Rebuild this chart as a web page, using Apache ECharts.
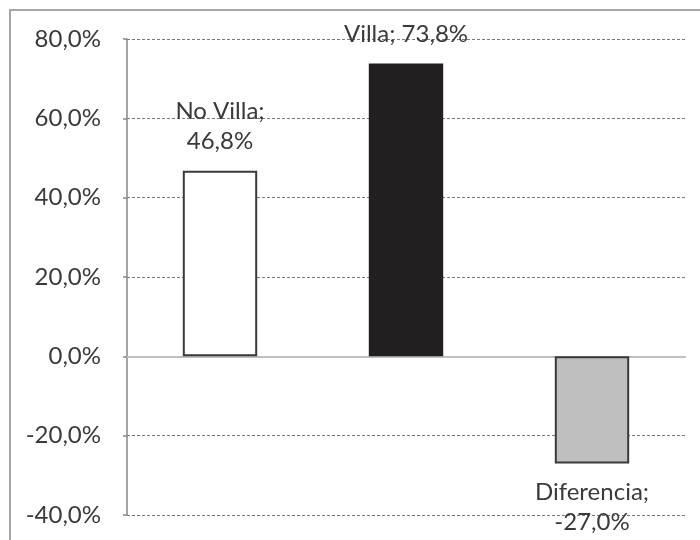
<!DOCTYPE html>
<html>
<head>
<meta charset="utf-8">
<script src="https://cdn.jsdelivr.net/npm/echarts@6/dist/echarts.min.js"></script>
<style>html,body{margin:0;padding:0;background:#fff}#c{width:700px;height:540px}</style>
</head>
<body>
<div id="c"></div>
<script>
const categories = ["No Villa", "Villa", "Diferencia"];
const values = [46.8, 73.8, -27.0];
const barColors = ["#ffffff", "#231f20", "#bfbfbf"];
const yTicks = [-40, -20, 0, 20, 40, 60, 80];

const fmt = v => v.toFixed(1).replace('.', ',') + '%';
const chart = echarts.init(document.getElementById('c'));
chart.setOption({
  animation: false,
  backgroundColor: '#fff',
  grid: { left: 127, right: 15, top: 39, bottom: 25 },
  graphic: [{
    type: 'rect', silent: true, z: -10,
    shape: { x: 10, y: 10, width: 760, height: 640 },
    style: { fill: 'none', stroke: '#a6a6a6', lineWidth: 2 }
  }],
  xAxis: {
    type: 'category', data: categories,
    axisLine: { show: true, onZero: true, lineStyle: { color: '#bfbfbf', width: 2 } },
    axisTick: { show: false }, axisLabel: { show: false }, splitLine: { show: false }
  },
  yAxis: {
    type: 'value', min: yTicks[0], max: yTicks[yTicks.length - 1], interval: 20,
    axisLine: { show: true, lineStyle: { color: '#868686', width: 1.5 } },
    axisTick: { show: true, inside: false, length: 4, lineStyle: { color: '#868686', width: 1.5 } },
    axisLabel: { margin: 26, color: '#3a3a3a', fontFamily: 'Lato', fontSize: 24,
      formatter: v => fmt(v) },
    splitLine: { show: true, lineStyle: { color: '#7a7a7a', type: [3, 2], width: 1 } }
  },
  series: [{
    type: 'bar', barWidth: '40%', z: 3,
    data: values.map((v, i) => ({
      value: v,
      itemStyle: { color: barColors[i], borderColor: '#3a3a3a', borderWidth: i === 1 ? 0 : 2 },
      label: { position: v < 0 ? 'bottom' : 'top' }
    })),
    label: {
      show: true, distance: 14, color: '#3a3a3a', fontFamily: 'Lato', fontSize: 24, lineHeight: 30,
      formatter: p => p.name + ';' + (p.dataIndex === 1 ? ' ' : '\n') + fmt(p.value)
    }
  }]
});
</script>
</body>
</html>
